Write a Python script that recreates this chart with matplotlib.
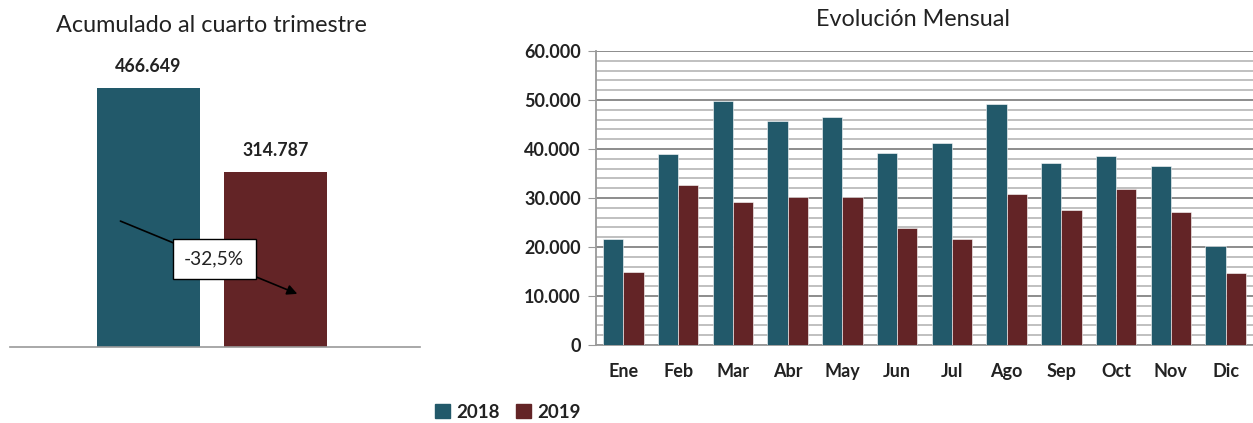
import matplotlib.pyplot as plt
from matplotlib import ticker
from matplotlib.patches import Patch

# data
years = ['2018', '2019']
totals = [466649, 314787]
change_label = '-32,5%'
months = ['Ene', 'Feb', 'Mar', 'Abr', 'May', 'Jun',
          'Jul', 'Ago', 'Sep', 'Oct', 'Nov', 'Dic']
monthly_2018 = [21600, 38900, 49700, 45700, 46600, 39200,
                41300, 49200, 37200, 38600, 36600, 20300]
monthly_2019 = [15000, 32600, 29200, 30300, 30300, 23900,
                21600, 30900, 27600, 31900, 27200, 14600]

teal = '#22596A'
maroon = '#632426'
colors = [teal, maroon]

plt.rcParams['font.family'] = ['Lato', 'DejaVu Sans']

fig = plt.figure(figsize=(12.53, 4.23), dpi=100)

# left panel: cumulative totals
ax1 = fig.add_axes([10 / 1253, 1 - 347 / 423, 410 / 1253, 296 / 423])
ax1.bar([0, 1], totals, width=0.808, color=colors)
ax1.set_xlim(-1.086, 2.13)
ax1.set_ylim(0, 533000)
for i, v in enumerate(totals):
    ax1.text(i, v + 24000, f'{v:,}'.replace(',', '.'), ha='center',
             va='bottom', fontsize=12.8, fontweight='bold', color='#222222')
for s in ['top', 'right', 'left']:
    ax1.spines[s].set_visible(False)
ax1.spines['bottom'].set_color('#999999')
ax1.spines['bottom'].set_linewidth(1.2)
ax1.set_xticks([])
ax1.set_yticks([])
ax1.annotate('', xy=(0.707, 0.176), xytext=(0.263, 0.429),
             xycoords='axes fraction',
             arrowprops=dict(arrowstyle='-|>', color='black', lw=1.2,
                             mutation_scale=15))
ax1.text(0.498, 0.297, change_label, transform=ax1.transAxes, ha='center',
         va='center', fontsize=13.8, color='#222222',
         bbox=dict(boxstyle='square,pad=0.6', fc='white', ec='black', lw=1))
fig.text(211 / 1253, 1 - 25 / 423, 'Acumulado al cuarto trimestre',
         ha='center', va='center', fontsize=16.8, color='#222222')

# right panel: monthly evolution
ax2 = fig.add_axes([596 / 1253, 1 - 345 / 423, 657 / 1253, 294 / 423])
x = list(range(len(months)))
w = 0.37
ax2.bar([i - w / 2 for i in x], monthly_2018, width=w, color=teal,
        label=years[0], edgecolor='white', linewidth=0.4, zorder=3)
ax2.bar([i + w / 2 for i in x], monthly_2019, width=w, color=maroon,
        label=years[1], edgecolor='white', linewidth=0.4, zorder=3)
ax2.set_xlim(-0.5, len(months) - 0.5)
ax2.set_ylim(0, 60000)
ax2.yaxis.set_major_locator(ticker.MultipleLocator(10000))
ax2.yaxis.set_minor_locator(ticker.MultipleLocator(2000))
ax2.yaxis.set_major_formatter(
    ticker.FuncFormatter(lambda v, pos: f'{v:,.0f}'.replace(',', '.')))
ax2.grid(axis='y', which='major', color='#8c8c8c', linewidth=1.4, zorder=0)
ax2.grid(axis='y', which='minor', color='#c0c0c0', linewidth=1.4, zorder=0)
ax2.set_xticks(x)
ax2.set_xticklabels(months)
ax2.tick_params(axis='x', length=0, pad=13, labelsize=13)
ax2.tick_params(axis='y', which='major', length=6, color='#999999',
                pad=5, labelsize=13)
ax2.tick_params(axis='y', which='minor', length=0)
for lab in ax2.get_xticklabels() + ax2.get_yticklabels():
    lab.set_fontweight('bold')
    lab.set_color('#222222')
for s in ['top', 'right']:
    ax2.spines[s].set_visible(False)
for s in ['left', 'bottom']:
    ax2.spines[s].set_color('#999999')
    ax2.spines[s].set_linewidth(1.3)
fig.text(913 / 1253, 1 - 20 / 423, 'Evolución Mensual',
         ha='center', va='center', fontsize=16.8, color='#222222')

handles = [Patch(color=c, label=y) for c, y in zip(colors, years)]
leg = fig.legend(handles=handles, loc='center', ncol=2,
                 bbox_to_anchor=(508 / 1253, 1 - 412 / 423), frameon=False,
                 handlelength=0.8, handleheight=0.8, handletextpad=0.3,
                 columnspacing=0.9,
                 prop={'weight': 'bold', 'size': 13.5})
for t in leg.get_texts():
    t.set_color('#222222')

fig.savefig('out.png', dpi=100)
